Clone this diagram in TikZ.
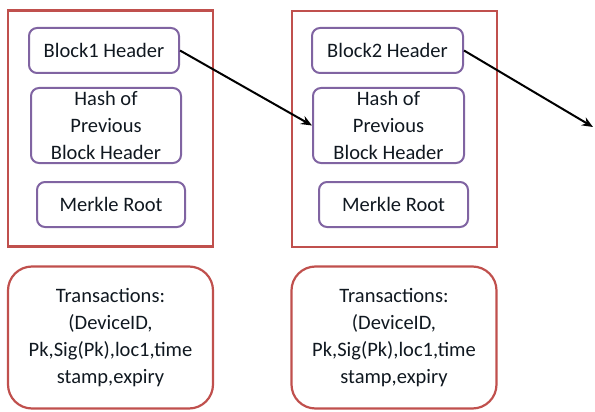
\documentclass[tikz,border=0pt]{standalone}
\usepackage{fontspec}
\setmainfont{Carlito}
\usetikzlibrary{arrows.meta}
\definecolor{bred}{HTML}{C0504D}
\definecolor{bpur}{HTML}{8064A2}
\definecolor{txt}{HTML}{101820}
\begin{document}
\begin{tikzpicture}[x=1pt,y=-1pt,
  blockbox/.style={draw=bred,line width=2.2pt},
  field/.style={draw=bpur,line width=2pt,rounded corners=8pt,inner sep=0pt,
    font=\fontsize{20.5}{27}\selectfont,text=txt,align=center},
  txbox/.style={draw=bred,line width=2.2pt,rounded corners=24pt,inner sep=0pt,
    minimum width=205pt,minimum height=142pt,
    font=\fontsize{20.5}{27}\selectfont,text=txt,align=center},
  link/.style={line width=2pt,-{Stealth[length=11pt,width=9pt]}}]
\useasboundingbox (0,0) rectangle (595,412);
% block outlines
\node[blockbox,minimum width=205pt,minimum height=236pt] (b1) at (110.5,128.5) {};
\node[blockbox,minimum width=205pt,minimum height=236pt] (b2) at (394.5,129) {};
% block 1 fields
\node[field,minimum width=150pt,minimum height=45pt] (h1) at (104,50.5) {Block1 Header};
\node[field,minimum width=150pt,minimum height=75pt] (p1) at (106,125.5) {Hash of\\Previous\\Block Header};
\node[field,minimum width=148pt,minimum height=45pt] (m1) at (111,204.5) {Merkle Root};
% block 2 fields
\node[field,minimum width=151pt,minimum height=45pt] (h2) at (387.5,50.5) {Block2 Header};
\node[field,minimum width=151pt,minimum height=75pt] (p2) at (388.5,125.5) {Hash of\\Previous\\Block Header};
\node[field,minimum width=149pt,minimum height=45pt] (m2) at (393.5,204.5) {Merkle Root};
% transactions
\node[txbox] (t1) at (110.5,337.5) {Transactions:\\(DeviceID,\\Pk,Sig(Pk),loc1,time\\stamp,expiry};
\node[txbox] (t2) at (394,337.5) {Transactions:\\(DeviceID,\\Pk,Sig(Pk),loc1,time\\stamp,expiry};
% links
\coordinate (nxt) at (593,127);
\draw[link] (h1.east) -- (p2.west);
\draw[link] (h2.east) -- (nxt);
\end{tikzpicture}
\end{document}
